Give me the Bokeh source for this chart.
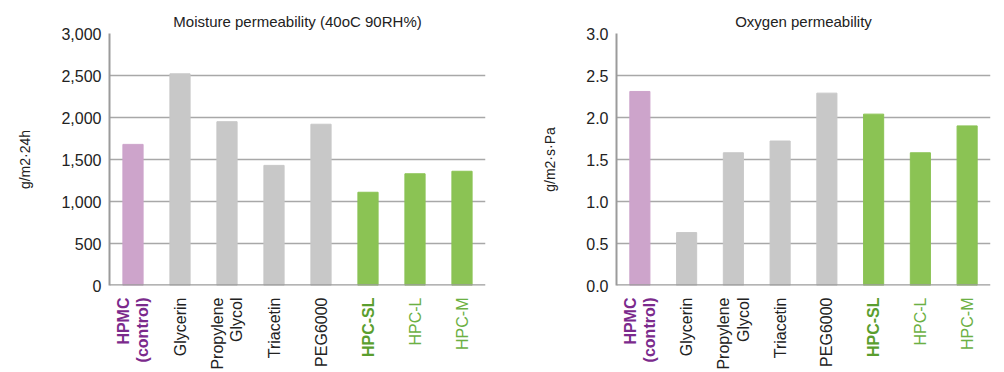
import math
from bokeh.plotting import figure
from bokeh.models import FactorRange, Range1d, FixedTicker, NumeralTickFormatter, ColumnDataSource, Span
from bokeh.layouts import row, column
from bokeh.core.properties import value
from bokeh.embed import file_html
from bokeh.resources import INLINE

# ---- data ----
categories = ["HPMC (control)", "Glycerin", "Propylene Glycol", "Triacetin",
              "PEG6000", "HPC-SL", "HPC-L", "HPC-M"]
category_labels = ["HPMC\n(control)", "Glycerin", "Propylene\nGlycol", "Triacetin",
                   "PEG6000", "HPC-SL", "HPC-L", "HPC-M"]
moisture = [1680, 2520, 1950, 1430, 1920, 1110, 1330, 1360]
oxygen = [2.31, 0.63, 1.58, 1.72, 2.29, 2.04, 1.58, 1.90]
moisture_ticks = [0, 500, 1000, 1500, 2000, 2500, 3000]
oxygen_ticks = [0.0, 0.5, 1.0, 1.5, 2.0, 2.5, 3.0]

PURPLE_BAR = "#cda4cb"
GRAY_BAR = "#c8c8c8"
GREEN_BAR = "#8bc354"
bar_colors = [PURPLE_BAR, GRAY_BAR, GRAY_BAR, GRAY_BAR, GRAY_BAR, GREEN_BAR, GREEN_BAR, GREEN_BAR]
label_colors = ["#7b2a8c", "#222222", "#222222", "#222222", "#222222", "#5a9e2e", "#6cb043", "#6cb043"]
label_styles = ["bold", "normal", "normal", "normal", "normal", "bold", "normal", "normal"]

FONT = "Liberation Sans"
AXIS_GRAY = "#9b9b9b"
GRID_GRAY = "#a8a8a8"
MAIN_H = 297
STRIP_H = 74


def make_chart(title, values, ticks, fmt, ylabel, width, left, right):
    x_range = FactorRange(*categories, range_padding=0)
    p = figure(x_range=x_range, y_range=Range1d(ticks[0], ticks[-1]),
               width=width, height=MAIN_H, output_backend="svg", toolbar_location=None,
               min_border_left=left, min_border_right=right,
               min_border_top=33, min_border_bottom=12, title=title)
    p.vbar(x=categories, top=values, width=0.43, color=bar_colors)

    p.title.align = "center"
    p.title.text_font = FONT
    p.title.text_font_size = "15px"
    p.title.text_font_style = "normal"
    p.title.text_color = "#222222"
    p.title.standoff = 7

    p.outline_line_color = None
    p.xgrid.grid_line_color = None
    p.ygrid.ticker = FixedTicker(ticks=ticks[1:-1])
    p.ygrid.grid_line_color = GRID_GRAY
    p.ygrid.grid_line_width = 1.5

    ya = p.yaxis[0]
    ya.ticker = FixedTicker(ticks=ticks)
    ya.formatter = NumeralTickFormatter(format=fmt)
    ya.major_tick_out = 0
    ya.major_tick_in = 0
    ya.minor_tick_out = 0
    ya.minor_tick_in = 0
    ya.major_label_standoff = 8
    ya.major_label_text_font = FONT
    ya.major_label_text_font_size = "16px"
    ya.major_label_text_color = "#222222"
    ya.axis_line_color = AXIS_GRAY
    ya.axis_line_width = 2
    ya.axis_label = ylabel
    ya.axis_label_text_font = FONT
    ya.axis_label_text_font_size = "14px"
    ya.axis_label_text_font_style = "normal"
    ya.axis_label_text_color = "#222222"
    ya.axis_label_standoff = 25

    p.xaxis.visible = False
    p.add_layout(Span(location=ticks[0], dimension="width", line_color=AXIS_GRAY, line_width=2.5))

    # strip with the coloured, rotated category labels, sharing the x range
    s = figure(x_range=x_range, y_range=Range1d(0, 1), width=width, height=STRIP_H,
               output_backend="svg", toolbar_location=None,
               x_axis_location=None, y_axis_location=None,
               min_border_left=left, min_border_right=right,
               min_border_top=0, min_border_bottom=0)
    s.outline_line_color = None
    s.grid.grid_line_color = None
    src = ColumnDataSource(dict(x=categories, y=[1] * len(categories), text=category_labels,
                                color=label_colors, style=label_styles))
    s.text(x="x", y="y", text="text", source=src, angle=math.pi / 2, y_offset=0,
           text_align="right", text_baseline="middle", text_color="color",
           text_font_style="style", text_font=value(FONT), text_font_size="16px",
           text_line_height=1.15)
    return column(p, s, spacing=0)


c1 = make_chart("Moisture permeability (40oC 90RH%)", moisture, moisture_ticks, "0,0",
                "g/m2\u00b724h", 500, 109, 15)
c2 = make_chart("Oxygen permeability", oxygen, oxygen_ticks, "0.0",
                "g/m2\u00b7s\u00b7Pa", 496, 116, 6)

layout = row(c1, c2, spacing=0)
open("out.html", "w").write(file_html(layout, INLINE))
